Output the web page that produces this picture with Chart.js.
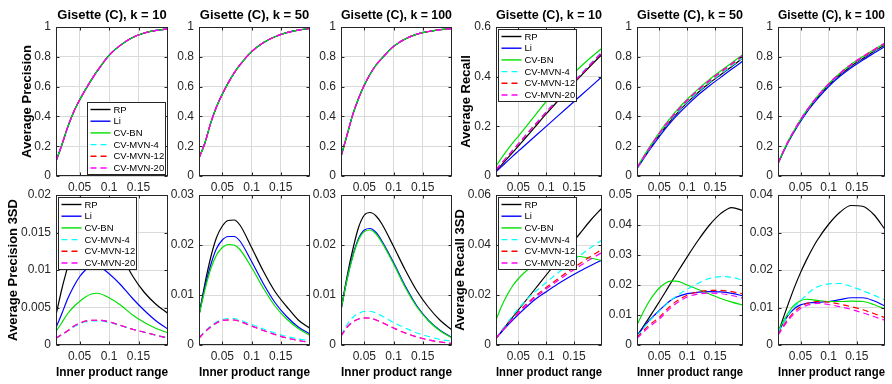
<!DOCTYPE html>
<html>
<head>
<meta charset="utf-8">
<script src="https://cdn.jsdelivr.net/npm/chart.js@4.4.0/dist/chart.umd.min.js"></script>
<style>
  html, body { margin: 0; padding: 0; background: #fff; }
  #wrap { position: relative; width: 892px; height: 384px; overflow: hidden; }
  #wrap canvas { position: absolute; left: 0; top: 0; }
</style>
</head>
<body>
<div id="wrap"></div>
<script>
// x positions (inner product range) shared by every panel
const innerProduct = [0.01, 0.02, 0.03, 0.04, 0.05, 0.06, 0.07, 0.08, 0.1, 0.12, 0.14, 0.16, 0.18, 0.2];
const xTicks = [0.05, 0.1, 0.15];
const methods = ['RP', 'Li', 'CV-BN', 'CV-MVN-4', 'CV-MVN-12', 'CV-MVN-20'];
const kValues = [10, 50, 100];

// tick labels for the y axes
const unitTicks = [0, 0.2, 0.4, 0.6, 0.8, 1];
const recK10Ticks = [0, 0.2, 0.4, 0.6];
const precSdK10Ticks = [0, 0.005, 0.01, 0.015, 0.02];
const precSdTicks = [0, 0.01, 0.02, 0.03];
const recSdK10Ticks = [0, 0.02, 0.04, 0.06];
const recSdK50Ticks = [0, 0.01, 0.02, 0.03, 0.04, 0.05];
const recSdK100Ticks = [0, 0.01, 0.02, 0.03, 0.04];

// average precision (all methods lie on the same curve)
const precK10 = [0.10, 0.21, 0.33, 0.43, 0.51, 0.58, 0.645, 0.705, 0.81, 0.88, 0.93, 0.96, 0.977, 0.987];
const precK50 = [0.12, 0.22, 0.355, 0.465, 0.55, 0.625, 0.69, 0.745, 0.835, 0.895, 0.935, 0.962, 0.979, 0.99];
const precK100 = [0.13, 0.27, 0.41, 0.52, 0.61, 0.685, 0.745, 0.79, 0.87, 0.92, 0.952, 0.97, 0.982, 0.99];

// average recall
const recK10_RP  = [0.020, 0.045, 0.070, 0.095, 0.120, 0.146, 0.172, 0.198, 0.250, 0.300, 0.349, 0.398, 0.445, 0.490];
const recK10_Li  = [0.017, 0.038, 0.059, 0.080, 0.100, 0.120, 0.140, 0.160, 0.200, 0.240, 0.280, 0.320, 0.360, 0.400];
const recK10_BN  = [0.040, 0.073, 0.104, 0.133, 0.160, 0.188, 0.216, 0.244, 0.300, 0.347, 0.393, 0.437, 0.477, 0.515];
const recK10_M4  = [0.026, 0.052, 0.078, 0.104, 0.130, 0.157, 0.183, 0.208, 0.259, 0.308, 0.357, 0.406, 0.454, 0.501];
const recK10_M12 = [0.025, 0.051, 0.077, 0.103, 0.129, 0.155, 0.181, 0.206, 0.256, 0.305, 0.354, 0.402, 0.450, 0.497];
const recK10_M20 = [0.025, 0.051, 0.077, 0.103, 0.129, 0.155, 0.181, 0.206, 0.257, 0.306, 0.355, 0.403, 0.451, 0.498];

const recK50_RP  = [0.050, 0.109, 0.166, 0.221, 0.274, 0.324, 0.370, 0.414, 0.492, 0.562, 0.624, 0.680, 0.735, 0.793];
const recK50_Li  = [0.050, 0.106, 0.161, 0.214, 0.265, 0.313, 0.358, 0.400, 0.476, 0.545, 0.606, 0.662, 0.718, 0.772];
const recK50_BN  = [0.060, 0.120, 0.180, 0.237, 0.292, 0.343, 0.390, 0.435, 0.515, 0.585, 0.648, 0.705, 0.760, 0.815];
const recK50_M4  = [0.052, 0.111, 0.169, 0.225, 0.278, 0.328, 0.375, 0.419, 0.497, 0.567, 0.629, 0.685, 0.740, 0.795];
const recK50_M12 = [0.055, 0.114, 0.173, 0.230, 0.284, 0.335, 0.382, 0.427, 0.506, 0.576, 0.638, 0.695, 0.750, 0.805];
const recK50_M20 = [0.055, 0.115, 0.175, 0.232, 0.287, 0.338, 0.385, 0.430, 0.510, 0.580, 0.643, 0.700, 0.755, 0.810];

const recK100_RP  = [0.083, 0.167, 0.243, 0.309, 0.371, 0.428, 0.479, 0.526, 0.610, 0.679, 0.737, 0.787, 0.835, 0.880];
const recK100_Li  = [0.082, 0.165, 0.240, 0.305, 0.366, 0.422, 0.472, 0.518, 0.601, 0.669, 0.727, 0.777, 0.824, 0.870];
const recK100_BN  = [0.085, 0.170, 0.248, 0.315, 0.378, 0.435, 0.487, 0.535, 0.620, 0.690, 0.750, 0.800, 0.848, 0.893];
const recK100_M4  = [0.084, 0.168, 0.245, 0.311, 0.374, 0.431, 0.482, 0.529, 0.614, 0.684, 0.742, 0.792, 0.840, 0.885];
const recK100_M12 = [0.085, 0.169, 0.246, 0.313, 0.376, 0.433, 0.485, 0.532, 0.617, 0.687, 0.746, 0.796, 0.844, 0.889];
const recK100_M20 = [0.085, 0.170, 0.248, 0.315, 0.378, 0.435, 0.487, 0.535, 0.620, 0.690, 0.750, 0.800, 0.848, 0.893];

// average precision 3SD
const precSdK10_RP  = [0.0040, 0.0075, 0.0105, 0.0135, 0.0158, 0.0170, 0.0175, 0.0172, 0.0155, 0.0122, 0.0092, 0.0070, 0.0054, 0.0042];
const precSdK10_Li  = [0.0023, 0.0042, 0.0062, 0.0078, 0.0091, 0.0100, 0.0105, 0.0105, 0.0095, 0.0080, 0.0062, 0.0046, 0.0032, 0.0021];
const precSdK10_BN  = [0.0018, 0.0030, 0.0042, 0.0051, 0.0058, 0.0064, 0.0068, 0.0069, 0.0063, 0.0053, 0.0040, 0.0030, 0.0022, 0.0016];
const precSdK10_M4  = [0.0009, 0.0014, 0.0019, 0.0024, 0.0028, 0.0031, 0.0032, 0.0032, 0.0030, 0.0026, 0.0021, 0.0017, 0.0013, 0.0010];
const precSdK10_M12 = [0.0009, 0.0014, 0.0019, 0.0025, 0.0029, 0.0032, 0.0033, 0.0033, 0.0031, 0.0026, 0.0021, 0.0017, 0.0013, 0.0009];
const precSdK10_M20 = [0.0009, 0.0014, 0.0019, 0.0025, 0.0029, 0.0032, 0.0033, 0.0033, 0.0031, 0.0026, 0.0021, 0.0017, 0.0013, 0.0009];

const precSdK50_RP  = [0.0060, 0.0122, 0.0175, 0.0215, 0.0238, 0.0249, 0.0250, 0.0240, 0.0195, 0.0148, 0.0107, 0.0077, 0.0050, 0.0033];
const precSdK50_Li  = [0.0060, 0.0115, 0.0160, 0.0193, 0.0210, 0.0217, 0.0217, 0.0208, 0.0167, 0.0123, 0.0085, 0.0057, 0.0036, 0.0022];
const precSdK50_BN  = [0.0060, 0.0110, 0.0152, 0.0180, 0.0195, 0.0201, 0.0200, 0.0191, 0.0155, 0.0114, 0.0078, 0.0052, 0.0033, 0.0019];
const precSdK50_M4  = [0.0015, 0.0027, 0.0038, 0.0046, 0.0051, 0.0053, 0.0053, 0.0050, 0.0041, 0.0032, 0.0024, 0.0017, 0.0012, 0.0008];
const precSdK50_M12 = [0.0014, 0.0026, 0.0036, 0.0044, 0.0049, 0.0050, 0.0050, 0.0047, 0.0038, 0.0029, 0.0021, 0.0014, 0.0009, 0.0005];
const precSdK50_M20 = [0.0014, 0.0026, 0.0036, 0.0044, 0.0049, 0.0050, 0.0050, 0.0047, 0.0038, 0.0029, 0.0021, 0.0014, 0.0009, 0.0005];

const precSdK100_RP  = [0.0070, 0.0135, 0.0190, 0.0235, 0.0260, 0.0265, 0.0258, 0.0242, 0.0197, 0.0150, 0.0108, 0.0075, 0.0049, 0.0030];
const precSdK100_Li  = [0.0070, 0.0130, 0.0178, 0.0213, 0.0230, 0.0233, 0.0225, 0.0208, 0.0165, 0.0118, 0.0078, 0.0049, 0.0029, 0.0015];
const precSdK100_BN  = [0.0070, 0.0129, 0.0176, 0.0210, 0.0227, 0.0230, 0.0222, 0.0205, 0.0162, 0.0115, 0.0076, 0.0048, 0.0028, 0.0014];
const precSdK100_M4  = [0.0019, 0.0040, 0.0055, 0.0063, 0.0067, 0.0067, 0.0064, 0.0058, 0.0045, 0.0034, 0.0024, 0.0017, 0.0011, 0.0008];
const precSdK100_M12 = [0.0018, 0.0035, 0.0046, 0.0052, 0.0054, 0.0054, 0.0050, 0.0045, 0.0034, 0.0024, 0.0016, 0.0010, 0.0006, 0.0003];
const precSdK100_M20 = [0.0018, 0.0035, 0.0046, 0.0052, 0.0054, 0.0054, 0.0050, 0.0045, 0.0034, 0.0024, 0.0016, 0.0010, 0.0006, 0.0003];

// average recall 3SD
const recSdK10_RP  = [0.0027, 0.0055, 0.0084, 0.0112, 0.0140, 0.0168, 0.0196, 0.0224, 0.0280, 0.0335, 0.0390, 0.0445, 0.0500, 0.0548];
const recSdK10_Li  = [0.0027, 0.0052, 0.0077, 0.0100, 0.0122, 0.0143, 0.0163, 0.0182, 0.0213, 0.0243, 0.0270, 0.0295, 0.0318, 0.0340];
const recSdK10_BN  = [0.0100, 0.0155, 0.0200, 0.0237, 0.0265, 0.0288, 0.0307, 0.0322, 0.0342, 0.0353, 0.0357, 0.0354, 0.0347, 0.0338];
const recSdK10_M4  = [0.0027, 0.0058, 0.0088, 0.0117, 0.0145, 0.0170, 0.0193, 0.0213, 0.0250, 0.0287, 0.0322, 0.0357, 0.0390, 0.0420];
const recSdK10_M12 = [0.0027, 0.0054, 0.0081, 0.0107, 0.0131, 0.0154, 0.0175, 0.0195, 0.0230, 0.0263, 0.0295, 0.0325, 0.0355, 0.0382];
const recSdK10_M20 = [0.0027, 0.0053, 0.0079, 0.0104, 0.0127, 0.0149, 0.0170, 0.0190, 0.0224, 0.0256, 0.0287, 0.0316, 0.0344, 0.0370];

const recSdK50_RP  = [0.0031, 0.0058, 0.0086, 0.0115, 0.0144, 0.0174, 0.0205, 0.0235, 0.0294, 0.0350, 0.0400, 0.0438, 0.0458, 0.0448];
const recSdK50_Li  = [0.0030, 0.0055, 0.0078, 0.0097, 0.0115, 0.0133, 0.0148, 0.0159, 0.0171, 0.0176, 0.0178, 0.0177, 0.0172, 0.0164];
const recSdK50_BN  = [0.0067, 0.0105, 0.0140, 0.0168, 0.0190, 0.0205, 0.0213, 0.0213, 0.0200, 0.0185, 0.0170, 0.0155, 0.0143, 0.0133];
const recSdK50_M4  = [0.0028, 0.0052, 0.0075, 0.0095, 0.0113, 0.0131, 0.0148, 0.0162, 0.0186, 0.0206, 0.0222, 0.0228, 0.0226, 0.0215];
const recSdK50_M12 = [0.0025, 0.0045, 0.0063, 0.0078, 0.0092, 0.0112, 0.0130, 0.0145, 0.0166, 0.0177, 0.0182, 0.0182, 0.0178, 0.0170];
const recSdK50_M20 = [0.0022, 0.0040, 0.0057, 0.0072, 0.0086, 0.0105, 0.0123, 0.0138, 0.0160, 0.0170, 0.0173, 0.0171, 0.0165, 0.0156];

const recSdK100_RP  = [0.0031, 0.0075, 0.0117, 0.0157, 0.0193, 0.0225, 0.0254, 0.0280, 0.0322, 0.0354, 0.0372, 0.0370, 0.0348, 0.0308];
const recSdK100_Li  = [0.0032, 0.0060, 0.0083, 0.0098, 0.0107, 0.0111, 0.0113, 0.0114, 0.0116, 0.0121, 0.0126, 0.0126, 0.0118, 0.0104];
const recSdK100_BN  = [0.0036, 0.0065, 0.0090, 0.0108, 0.0118, 0.0122, 0.0121, 0.0119, 0.0116, 0.0116, 0.0117, 0.0116, 0.0108, 0.0096];
const recSdK100_M4  = [0.0033, 0.0060, 0.0085, 0.0103, 0.0118, 0.0133, 0.0146, 0.0155, 0.0163, 0.0164, 0.0156, 0.0145, 0.0133, 0.0120];
const recSdK100_M12 = [0.0028, 0.0052, 0.0073, 0.0090, 0.0102, 0.0110, 0.0114, 0.0116, 0.0114, 0.0109, 0.0102, 0.0094, 0.0084, 0.0073];
const recSdK100_M20 = [0.0026, 0.0049, 0.0069, 0.0085, 0.0097, 0.0105, 0.0109, 0.0111, 0.0108, 0.0102, 0.0095, 0.0086, 0.0076, 0.0066];

// styling (MATLAB-ish)
const lineColors = ['#000000', '#0000ff', '#00e000', '#00ffff', '#ff0000', '#ff00ff'];
const lineDashes = [[], [], [], [6, 4], [6, 4], [6, 4]];
const FONT = '"Liberation Sans", Arial, Helvetica, sans-serif';
const axisColor = '#262626';
const gridColor = '#dadada';

// plot area pixel edges
const cols = [[56, 168], [199, 310], [341, 452], [496, 602], [637, 743], [778, 885]];
const rows = [[27, 176], [195, 345]];

const panels = [
  { row: 0, col: 0, k: 0, series: Array(6).fill(precK10), yTicks: unitTicks, yTitle: 'Average Precision', yTitleX: 27.5, legend: 'se' },
  { row: 0, col: 1, k: 1, series: Array(6).fill(precK50), yTicks: unitTicks },
  { row: 0, col: 2, k: 2, series: Array(6).fill(precK100), yTicks: unitTicks },
  { row: 0, col: 3, k: 0, series: [recK10_RP, recK10_Li, recK10_BN, recK10_M4, recK10_M12, recK10_M20], yTicks: recK10Ticks, yTitle: 'Average Recall', yTitleX: 466, legend: 'nw' },
  { row: 0, col: 4, k: 1, series: [recK50_RP, recK50_Li, recK50_BN, recK50_M4, recK50_M12, recK50_M20], yTicks: unitTicks },
  { row: 0, col: 5, k: 2, series: [recK100_RP, recK100_Li, recK100_BN, recK100_M4, recK100_M12, recK100_M20], yTicks: unitTicks },
  { row: 1, col: 0, series: [precSdK10_RP, precSdK10_Li, precSdK10_BN, precSdK10_M4, precSdK10_M12, precSdK10_M20], yTicks: precSdK10Ticks, yTitle: 'Average Precision 3SD', yTitleX: 13, legend: 'nw' },
  { row: 1, col: 1, series: [precSdK50_RP, precSdK50_Li, precSdK50_BN, precSdK50_M4, precSdK50_M12, precSdK50_M20], yTicks: precSdTicks },
  { row: 1, col: 2, series: [precSdK100_RP, precSdK100_Li, precSdK100_BN, precSdK100_M4, precSdK100_M12, precSdK100_M20], yTicks: precSdTicks },
  { row: 1, col: 3, series: [recSdK10_RP, recSdK10_Li, recSdK10_BN, recSdK10_M4, recSdK10_M12, recSdK10_M20], yTicks: recSdK10Ticks, yTitle: 'Average Recall 3SD', yTitleX: 460, legend: 'nw' },
  { row: 1, col: 4, series: [recSdK50_RP, recSdK50_Li, recSdK50_BN, recSdK50_M4, recSdK50_M12, recSdK50_M20], yTicks: recSdK50Ticks },
  { row: 1, col: 5, series: [recSdK100_RP, recSdK100_Li, recSdK100_BN, recSdK100_M4, recSdK100_M12, recSdK100_M20], yTicks: recSdK100Ticks }
];

// box, inward ticks and the in-axes legend, drawn on top like matlab does
const framePlugin = {
  id: 'panelFrame',
  afterDraw(chart, args, opts) {
    const { ctx, chartArea: a, scales: { x, y } } = chart;
    ctx.save();
    ctx.strokeStyle = axisColor;
    ctx.lineWidth = 1;
    const l = Math.round(a.left) + 0.5, r = Math.round(a.right) - 0.5;
    const t = Math.round(a.top) + 0.5, b = Math.round(a.bottom) - 0.5;
    ctx.beginPath();
    x.ticks.forEach(tk => {
      const px = Math.round(x.getPixelForValue(tk.value)) + 0.5;
      ctx.moveTo(px, b); ctx.lineTo(px, b - 3);
      ctx.moveTo(px, t); ctx.lineTo(px, t + 3);
    });
    y.ticks.forEach(tk => {
      const py = Math.round(y.getPixelForValue(tk.value)) + 0.5;
      ctx.moveTo(l, py); ctx.lineTo(l + 3, py);
      ctx.moveTo(r, py); ctx.lineTo(r - 3, py);
    });
    ctx.stroke();
    ctx.strokeRect(l, t, r - l, b - t);

    if (opts.legend) {
      const w = 78, h = 72, rowH = 11.7;
      let x0, y0;
      if (opts.legend === 'se') { x0 = a.right - 3 - w; y0 = a.bottom - 2 - h; }
      else { x0 = a.left + 1.5; y0 = a.top + 2; }
      x0 = Math.round(x0) + 0.5; y0 = Math.round(y0) + 0.5;
      ctx.fillStyle = '#fff';
      ctx.fillRect(x0, y0, w, h);
      ctx.strokeStyle = axisColor;
      ctx.strokeRect(x0, y0, w, h);
      ctx.font = '9.5px ' + FONT;
      ctx.textBaseline = 'middle';
      chart.data.datasets.forEach((ds, i) => {
        const cy = y0 + 7 + i * rowH;
        ctx.strokeStyle = ds.borderColor;
        ctx.lineWidth = 1.4;
        ctx.setLineDash(ds.borderDash || []);
        ctx.beginPath();
        ctx.moveTo(x0 + 3, cy); ctx.lineTo(x0 + 23, cy);
        ctx.stroke();
        ctx.setLineDash([]);
        ctx.fillStyle = '#000';
        ctx.fillText(ds.label, x0 + 26, cy + 0.5);
      });
    }
    ctx.restore();
  }
};

const wrap = document.getElementById('wrap');

panels.forEach(p => {
  const [L, R] = cols[p.col];
  const [T, B] = rows[p.row];
  const isTop = p.row === 0;
  const xH = isTop ? 20 : 36;
  const padLeft = p.yTitle ? p.yTitleX - 7.8 : L - 34;
  const yW = L - padLeft;

  const cv = document.createElement('canvas');
  cv.width = 892; cv.height = 384;
  wrap.appendChild(cv);

  new Chart(cv, {
    type: 'line',
    data: {
      datasets: methods.map((m, i) => ({
        label: m,
        data: innerProduct.map((xv, j) => ({ x: xv, y: p.series[i][j] })),
        borderColor: lineColors[i],
        borderWidth: 1.2,
        borderDash: lineDashes[i],
        pointRadius: 0,
        fill: false,
        cubicInterpolationMode: 'monotone',
        order: 6 - i
      }))
    },
    options: {
      responsive: false,
      animation: false,
      devicePixelRatio: 1,
      events: [],
      layout: { padding: { left: padLeft, right: 892 - R, top: isTop ? 7.2 : T, bottom: 384 - B - xH } },
      plugins: {
        legend: { display: false },
        tooltip: { enabled: false },
        title: {
          display: isTop,
          text: isTop ? 'Gisette (C), k = ' + kValues[p.k] : '',
          fullSize: false,
          color: '#000',
          font: { family: FONT, size: 13, weight: 'bold', lineHeight: 1.2 },
          padding: { top: 0, bottom: 4.2 }
        },
        panelFrame: { legend: p.legend }
      },
      scales: {
        x: {
          type: 'linear',
          min: 0.01,
          max: 0.2,
          afterBuildTicks: s => { s.ticks = xTicks.map(v => ({ value: v })); },
          afterFit: s => { s.height = xH; },
          grid: { color: gridColor, drawTicks: false },
          border: { display: false },
          ticks: {
            autoSkip: false, maxRotation: 0, padding: 4, color: axisColor,
            font: { family: FONT, size: 12 },
            callback: v => String(v)
          },
          title: {
            display: !isTop,
            text: 'Inner product range',
            color: '#000',
            font: { family: FONT, size: 12, weight: 'bold', lineHeight: 1.2 },
            padding: { top: 0, bottom: 1 }
          }
        },
        y: {
          min: 0,
          max: p.yTicks[p.yTicks.length - 1],
          afterBuildTicks: s => { s.ticks = p.yTicks.map(v => ({ value: v })); },
          afterFit: s => { s.width = yW; },
          grid: { color: gridColor, drawTicks: false },
          border: { display: false },
          ticks: {
            autoSkip: false, padding: 5, color: axisColor,
            font: { family: FONT, size: 12 },
            callback: v => String(v)
          },
          title: {
            display: !!p.yTitle,
            text: p.yTitle || '',
            color: '#000',
            font: { family: FONT, size: 13, weight: 'bold', lineHeight: 1.2 },
            padding: 0
          }
        }
      }
    },
    plugins: [framePlugin]
  });
});
</script>
</body>
</html>
